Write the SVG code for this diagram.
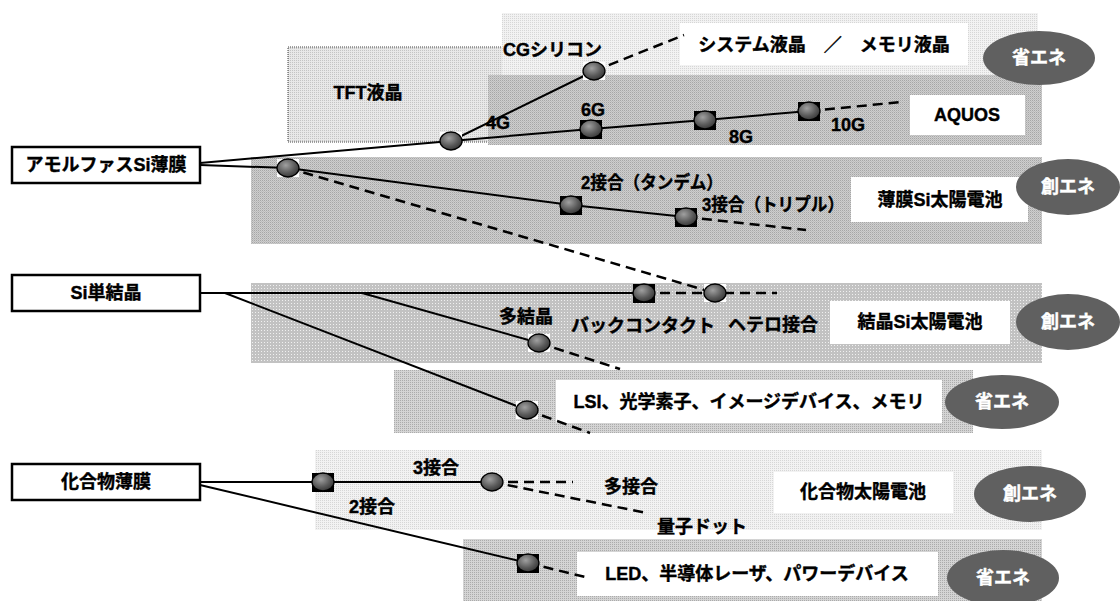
<svg xmlns="http://www.w3.org/2000/svg" width="1120" height="601" viewBox="0 0 1120 601">
<defs>
<style>
text{font-family:"Liberation Sans","Noto Sans CJK JP",sans-serif;font-weight:bold;font-size:18px;fill:#000;stroke:#000;stroke-width:0.4;dominant-baseline:central}
.mid{text-anchor:middle}
.wt{fill:#fff;stroke:#fff;text-anchor:middle}
.box{fill:#fff;stroke:#000;stroke-width:2.5}
.wb{fill:#fff}
.sol{fill:none;stroke:#000;stroke-width:2}
.das{fill:none;stroke:#000;stroke-width:2.5;stroke-dasharray:10 6}
.eco{fill:#606060}
.nd{fill:url(#ng);stroke:#000;stroke-width:1.3}
.sq{fill:#000}
.bg{fill:#fff}
</style>
<radialGradient id="ng" cx="0.4" cy="0.35" r="0.7">
<stop offset="0" stop-color="#a0a0a0"/>
<stop offset="0.6" stop-color="#5a5a5a"/>
<stop offset="1" stop-color="#333"/>
</radialGradient>
<pattern id="pLight" width="2" height="2" patternUnits="userSpaceOnUse">
<rect width="2" height="2" fill="#f2f2f2"/><rect width="1" height="1" fill="#d6d6d6"/>
</pattern>
<pattern id="pTFT" width="2" height="2" patternUnits="userSpaceOnUse">
<rect width="2" height="2" fill="#e8e8e8"/><rect width="1" height="1" fill="#c4c4c4"/>
</pattern>
<pattern id="pDark" width="2" height="2" patternUnits="userSpaceOnUse">
<rect width="2" height="2" fill="#cecece"/><rect width="1" height="1" fill="#a6a6a6"/><rect x="1" y="1" width="1" height="1" fill="#bcbcbc"/>
</pattern>
<pattern id="pDots" width="3" height="3" patternUnits="userSpaceOnUse">
<rect width="3" height="3" fill="#c2c2c2"/><rect width="1" height="1" fill="#f0f0f0"/>
</pattern>
<pattern id="pMed" width="2" height="2" patternUnits="userSpaceOnUse">
<rect width="2" height="2" fill="#d4d4d4"/><rect width="1" height="1" fill="#ababab"/>
</pattern>
</defs>

<g id="panels">
<rect x="288" y="47" width="220" height="95" fill="url(#pTFT)" stroke="#444" stroke-width="1" stroke-dasharray="1 1"/>
<rect x="502" y="13" width="536" height="70" fill="url(#pLight)"/>
<rect x="488" y="75" width="554" height="70" fill="url(#pDark)"/>
<rect x="251" y="157" width="791" height="87" fill="url(#pDark)"/>
<rect x="251" y="283" width="791" height="80" fill="url(#pDots)"/>
<rect x="394" y="370" width="579" height="63" fill="url(#pMed)"/>
<rect x="315" y="450" width="727" height="80" fill="url(#pLight)"/>
<rect x="463" y="539" width="579" height="62" fill="url(#pMed)"/>
</g>

<g id="labels-boxes">
<rect class="wb" x="680" y="23" width="288" height="42"/>
<rect class="wb" x="910" y="95" width="115" height="40"/>
<rect class="wb" x="851" y="177" width="177" height="45"/>
<rect class="wb" x="830" y="301" width="180" height="43"/>
<rect class="wb" x="556" y="380" width="386" height="43"/>
<rect class="wb" x="774" y="472" width="179" height="41"/>
<rect class="wb" x="577" y="552" width="361" height="44"/>
</g>

<g id="connectors">
<polyline class="sol" points="200,163 451,141"/>
<polyline class="sol" points="200,165 288,168"/>
<polyline class="sol" points="451,141 594,71"/>
<polyline class="das" points="594,71 684,35"/>
<polyline class="sol" points="451,141 591,129 705,120 809,111"/>
<polyline class="das" points="809,111 902,102"/>
<polyline class="sol" points="288,168 571,205 686,217"/>
<polyline class="das" points="686,217 806,230"/>
<polyline class="das" points="288,168 715,293"/>
<polyline class="sol" points="200,293 644,293"/>
<polyline class="das" points="644,293 715,293 777,293"/>
<polyline class="sol" points="362,293 539,343"/>
<polyline class="das" points="539,343 620,369"/>
<polyline class="sol" points="225,293 527,410"/>
<polyline class="das" points="527,410 590,433"/>
<polyline class="sol" points="200,482 492,482"/>
<polyline class="das" points="492,482 573,482"/>
<polyline class="das" points="492,482 647,513"/>
<polyline class="sol" points="200,485 528,563"/>
<polyline class="das" points="528,563 585,577"/>
</g>

<g id="n-amorphous"><rect class="box" x="12" y="147" width="188" height="36"/><text class="mid" x="106" y="165">アモルファスSi薄膜</text></g>
<g id="n-si-single"><rect class="box" x="12" y="275" width="188" height="36"/><text class="mid" x="106" y="293">Si単結晶</text></g>
<g id="n-compound"><rect class="box" x="12" y="464" width="188" height="36"/><text class="mid" x="106" y="482">化合物薄膜</text></g>

<g id="n-4g"><rect class="bg" x="440" y="132" width="22" height="18"/><ellipse class="nd" cx="451" cy="141" rx="11" ry="9"/></g>
<g id="n-cg"><rect class="bg" x="583" y="62" width="22" height="18"/><ellipse class="nd" cx="594" cy="71" rx="11" ry="9"/></g>
<g id="n-6g"><rect class="sq" x="580" y="120" width="22" height="19"/><ellipse class="nd" cx="591" cy="129" rx="11" ry="9"/></g>
<g id="n-8g"><rect class="sq" x="694" y="111" width="22" height="19"/><ellipse class="nd" cx="705" cy="120" rx="11" ry="9"/></g>
<g id="n-10g"><rect class="sq" x="798" y="102" width="22" height="19"/><ellipse class="nd" cx="809" cy="111" rx="11" ry="9"/></g>
<g id="n-thin"><rect class="bg" x="277" y="159" width="22" height="18"/><ellipse class="nd" cx="288" cy="168" rx="11" ry="9"/></g>
<g id="n-2j"><rect class="sq" x="560" y="196" width="22" height="19"/><ellipse class="nd" cx="571" cy="205" rx="11" ry="9"/></g>
<g id="n-3j"><rect class="sq" x="675" y="208" width="22" height="19"/><ellipse class="nd" cx="686" cy="217" rx="11" ry="9"/></g>
<g id="n-back"><rect class="sq" x="633" y="284" width="22" height="19"/><ellipse class="nd" cx="644" cy="293" rx="11" ry="9"/></g>
<g id="n-hetero"><rect class="bg" x="704" y="284" width="22" height="18"/><ellipse class="nd" cx="715" cy="293" rx="11" ry="9"/></g>
<g id="n-poly"><rect class="bg" x="528" y="334" width="22" height="18"/><ellipse class="nd" cx="539" cy="343" rx="11" ry="9"/></g>
<g id="n-lsi"><rect class="bg" x="516" y="401" width="22" height="18"/><ellipse class="nd" cx="527" cy="410" rx="11" ry="9"/></g>
<g id="n-c-start"><rect class="sq" x="312" y="473" width="22" height="19"/><ellipse class="nd" cx="323" cy="482" rx="11" ry="9"/></g>
<g id="n-c-3j"><ellipse class="nd" cx="492" cy="482" rx="11" ry="9"/></g>
<g id="n-led"><rect class="sq" x="517" y="554" width="22" height="19"/><ellipse class="nd" cx="528" cy="563" rx="11" ry="9"/></g>

<g id="texts">
<text class="mid" x="368" y="93">TFT液晶</text>
<text x="503" y="50">CGシリコン</text>
<text class="mid" x="498" y="123">4G</text>
<text class="mid" x="593" y="110">6G</text>
<text class="mid" x="741" y="137">8G</text>
<text class="mid" x="848" y="125">10G</text>
<text class="mid" x="824" y="45">システム液晶　／　メモリ液晶</text>
<text class="mid" x="967" y="115">AQUOS</text>
<text x="581" y="183" textLength="142" lengthAdjust="spacingAndGlyphs">2接合（タンデム）</text>
<text x="702" y="205" textLength="142" lengthAdjust="spacingAndGlyphs">3接合（トリプル）</text>
<text class="mid" x="940" y="200">薄膜Si太陽電池</text>
<text class="mid" x="526" y="317">多結晶</text>
<text class="mid" x="643" y="326">バックコンタクト</text>
<text class="mid" x="773" y="325">ヘテロ接合</text>
<text class="mid" x="920" y="322">結晶Si太陽電池</text>
<text class="mid" x="749" y="402">LSI、光学素子、イメージデバイス、メモリ</text>
<text class="mid" x="436" y="468">3接合</text>
<text class="mid" x="372" y="507">2接合</text>
<text class="mid" x="631" y="487">多接合</text>
<text x="657" y="527">量子ドット</text>
<text class="mid" x="863" y="492">化合物太陽電池</text>
<text class="mid" x="757" y="574">LED、半導体レーザ、パワーデバイス</text>
</g>

<g id="eco-tags">
<g id="e1"><ellipse class="eco" cx="1039" cy="58" rx="56" ry="27"/><text class="wt" x="1039" y="58">省エネ</text></g>
<g id="e2"><ellipse class="eco" cx="1068" cy="187" rx="52" ry="28"/><text class="wt" x="1068" y="187">創エネ</text></g>
<g id="e3"><ellipse class="eco" cx="1068" cy="322" rx="52" ry="28"/><text class="wt" x="1068" y="322">創エネ</text></g>
<g id="e4"><ellipse class="eco" cx="1002" cy="402" rx="57" ry="27"/><text class="wt" x="1002" y="402">省エネ</text></g>
<g id="e5"><ellipse class="eco" cx="1030" cy="494" rx="56" ry="28"/><text class="wt" x="1030" y="494">創エネ</text></g>
<g id="e6"><ellipse class="eco" cx="1003" cy="578" rx="56" ry="28"/><text class="wt" x="1003" y="578">省エネ</text></g>
</g>
</svg>
